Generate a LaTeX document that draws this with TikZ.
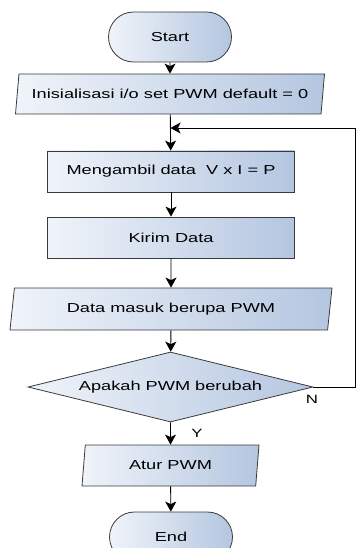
\documentclass[tikz,border=0pt]{standalone}
\usepackage{fontspec}
\setmainfont[FakeStretch=1.4]{Liberation Sans}
\usetikzlibrary{shapes.geometric,shapes.misc,arrows.meta}

\definecolor{isiKiri}{HTML}{F0F4FA}
\definecolor{isiKanan}{HTML}{B4C6E0}
\definecolor{garis}{HTML}{3A3A3A}

\tikzset{
  kotak/.style={draw=garis, line width=0.8pt, left color=isiKiri, right color=isiKanan,
    font=\fontsize{13}{15}\selectfont, inner sep=0pt},
  terminal/.style={kotak, rounded rectangle, minimum width=123pt, minimum height=50pt},
  proses/.style={kotak, rectangle, minimum width=247pt, minimum height=41pt},
  io/.style={kotak, trapezium, trapezium left angle=70, trapezium right angle=110,
    trapezium stretches body, minimum height=40pt},
  keputusan/.style={kotak, diamond, aspect=4, minimum width=285pt, minimum height=70pt},
  panah/.style={-{Stealth[length=10pt,width=11pt,inset=2.5pt]}, line width=0.9pt},
  label/.style={font=\fontsize{12}{14}\selectfont}
}

\begin{document}
\begin{tikzpicture}[x=1pt,y=-1pt]
  \useasboundingbox (0,0) rectangle (356,548);
  \clip (0,0) rectangle (356,548);
  % node
  \node[terminal] (start) at (170,37) {Start};
  \node[io, minimum width=309pt] (init) at (170,94) {Inisialisasi i/o set PWM default = 0};
  \node[proses] (ambil) at (171,171.5) {Mengambil data\ \ V x I = P};
  \node[proses] (kirim) at (171,237.5) {Kirim Data};
  \node[io, minimum width=322pt, minimum height=42pt] (masuk) at (171,309) {Data masuk berupa PWM};
  \node[keputusan] (cek) at (170.5,387) {Apakah PWM berubah};
  \node[io, minimum width=177pt, minimum height=41pt] (atur) at (170.5,465.5) {Atur PWM};
  \node[terminal] (akhir) at (171,537) {End};
  \coordinate (balik) at (170.5,128);
  \coordinate (kanan) at (355,128);
  % panah
  \draw[panah] (start) -- (init);
  \draw[panah] (init) -- (ambil);
  \draw[panah] (ambil) -- (kirim);
  \draw[panah] (kirim) -- (masuk);
  \draw[panah] (masuk) -- (cek);
  \draw[panah] (cek) -- (atur);
  \draw[panah] (atur) -- (akhir);
  \draw[panah] (cek.east) -| (kanan) -- (balik);
  % label
  \node[label] (n) at (312,399) {N};
  \node[label] (y) at (197,433) {Y};
\end{tikzpicture}
\end{document}
